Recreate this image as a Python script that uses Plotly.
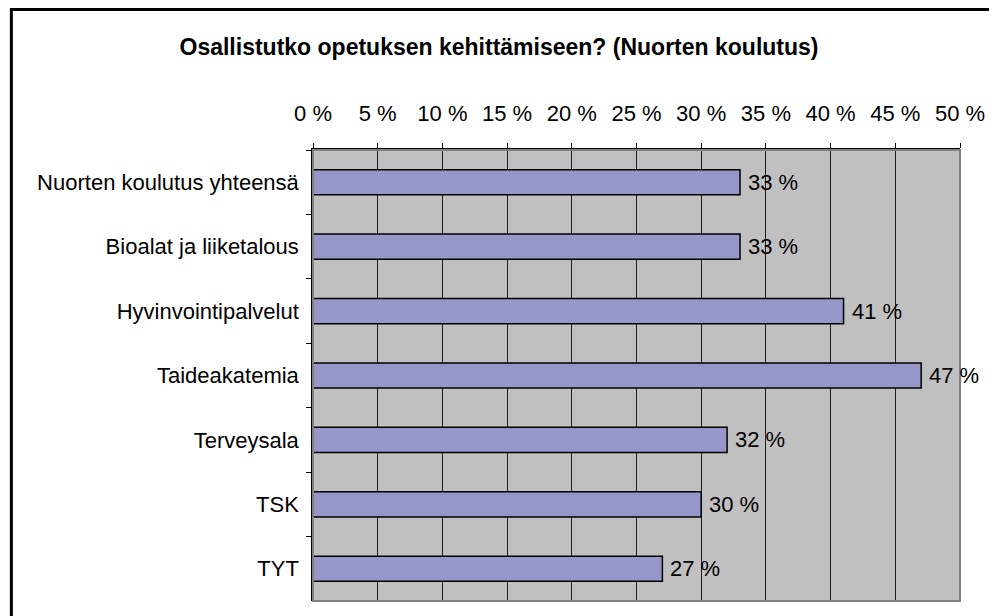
import plotly.graph_objects as go

title = "Osallistutko opetuksen kehittämiseen? (Nuorten koulutus)"
categories = ["Nuorten koulutus yhteensä", "Bioalat ja liiketalous", "Hyvinvointipalvelut",
              "Taideakatemia", "Terveysala", "TSK", "TYT"]
values = [0.33, 0.33, 0.41, 0.47, 0.32, 0.30, 0.27]
value_labels = ["33 %", "33 %", "41 %", "47 %", "32 %", "30 %", "27 %"]
tick_vals = [0, 0.05, 0.10, 0.15, 0.20, 0.25, 0.30, 0.35, 0.40, 0.45, 0.50]
tick_text = ["0 %", "5 %", "10 %", "15 %", "20 %", "25 %", "30 %", "35 %", "40 %", "45 %", "50 %"]

FONT = "Arial, Liberation Sans, sans-serif"
FS = 22

fig = go.Figure()
fig.add_trace(go.Bar(
    x=values, y=categories, orientation="h",
    width=0.39,
    marker=dict(color="#9696C8", line=dict(color="black", width=1.5)),
    hoverinfo="skip",
))

for v, c, t in zip(values, categories, value_labels):
    fig.add_annotation(x=v, y=c, text=t, showarrow=False, xanchor="left", yanchor="middle",
                       xshift=6, font=dict(family=FONT, size=FS, color="black"))

# page has an 8px body margin, so the figure starts at (8, 8)
W, H = 989, 608
ml, mr, mt, mb = 305, 33, 142, 15
pw, ph = W - ml - mr, H - mt - mb

# plot-area border (gray right/bottom)
fig.add_shape(type="rect", xref="paper", yref="paper", x0=0, x1=1, y0=0, y1=1,
              line=dict(color="#808080", width=2), layer="above")
# outer chart frame
fig.add_shape(type="rect", xref="paper", yref="paper",
              x0=(1.5 - ml) / pw, x1=(W + 20 - ml) / pw,
              y0=(H - mb - (H + 20)) / ph, y1=(H - mb - 1.5) / ph,
              line=dict(color="black", width=3), layer="above")

fig.update_layout(
    width=W, height=H,
    margin=dict(l=ml, r=mr, t=mt, b=mb, pad=0),
    paper_bgcolor="white", plot_bgcolor="#C0C0C0",
    showlegend=False,
    font=dict(family=FONT, size=FS, color="black"),
    title=dict(text="<b>" + title + "</b>", x=(499 - 8) / W, xanchor="center", xref="container",
               y=1 - 39 / H, yanchor="middle", yref="container",
               font=dict(family=FONT, size=23, color="black")),
    xaxis=dict(side="top", range=[0, 0.5], tickvals=tick_vals, ticktext=tick_text,
               showgrid=True, gridcolor="#202020", gridwidth=1,
               showline=True, linecolor="black", linewidth=1.5,
               ticks="outside", ticklen=5, tickcolor="black", tickwidth=1,
               ticklabelstandoff=13, zeroline=False,
               tickfont=dict(family=FONT, size=FS, color="black"), fixedrange=True),
    yaxis=dict(autorange="reversed", type="category", tickson="boundaries",
               showgrid=False, showline=True, linecolor="black", linewidth=1.5,
               ticks="outside", ticklen=5, tickcolor="black", tickwidth=1,
               ticklabelstandoff=8,
               tickfont=dict(family=FONT, size=FS, color="black"), fixedrange=True),
)

fig.write_html("out.html")
